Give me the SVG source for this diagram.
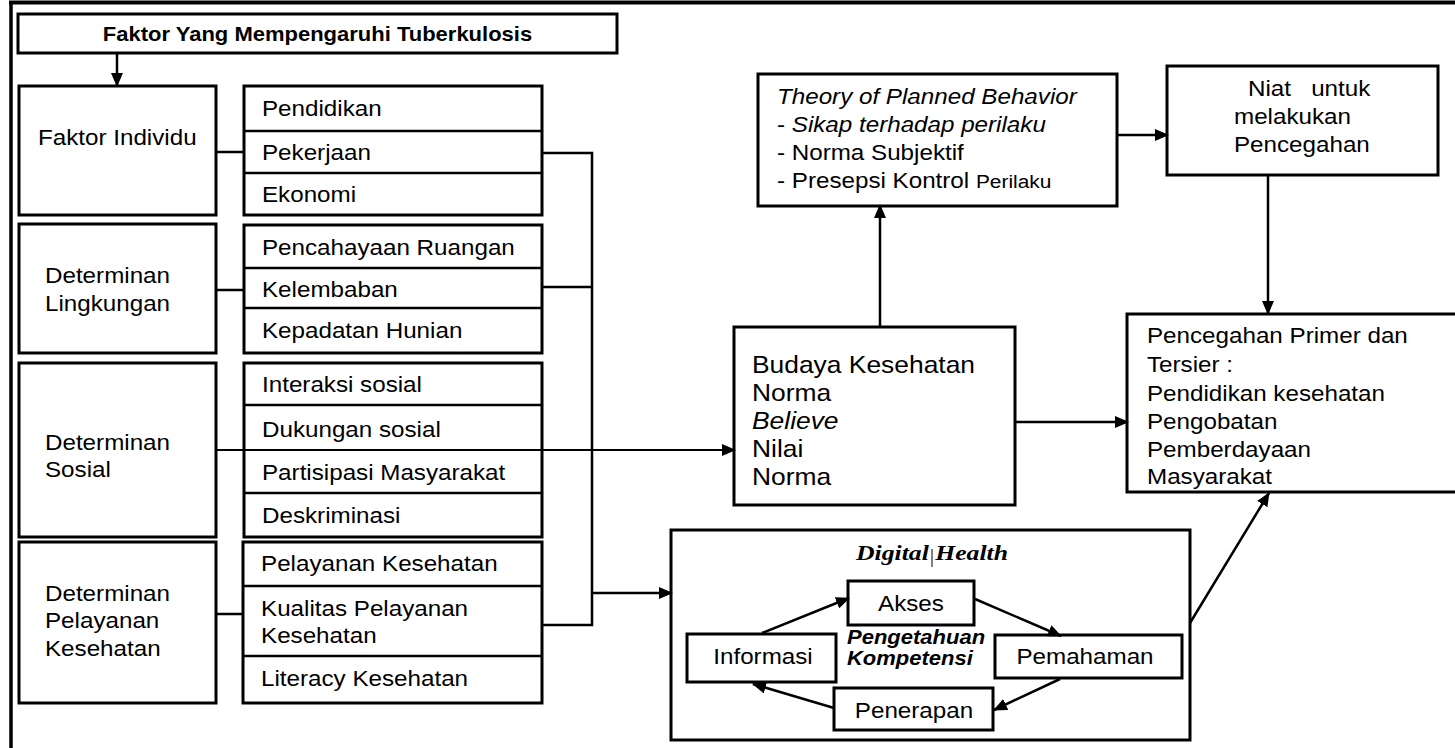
<svg xmlns="http://www.w3.org/2000/svg" width="1455" height="748" viewBox="0 0 1455 748">
<style>
.bx{fill:#fff;stroke:#000;stroke-width:3}
.dv{stroke:#000;stroke-width:2.5;fill:none}
.ln{stroke:#000;stroke-width:2.5;fill:none}
.thin{stroke:#000;stroke-width:2;fill:none}
.arr{marker-end:url(#ah)}
.t{font-family:"Liberation Sans",Arial,sans-serif;font-size:22px;fill:#000;transform-box:fill-box;transform-origin:0 50%;transform:scaleX(1.1)}
.c{text-anchor:middle;transform-origin:50% 50%}
.b{font-weight:bold}
.i{font-style:italic}
.big{font-size:24px}
</style>
<defs>
<marker id="ah" markerUnits="userSpaceOnUse" markerWidth="14" markerHeight="12" refX="13" refY="6" orient="auto">
<path d="M0,0 L14,6 L0,12 z" fill="#000"/>
</marker>
</defs>
<rect width="1455" height="748" fill="#fff"/>
<g id="frame">
<line x1="9" y1="2.5" x2="1455" y2="2.5" stroke="#000" stroke-width="4"/>
<line x1="11" y1="1" x2="11" y2="748" stroke="#000" stroke-width="3.5"/>
</g>
<g id="title">
<rect class="bx" x="18" y="14" width="599" height="39"/>
<text class="t c b" x="317.5" y="41" style="font-size:20px">Faktor Yang Mempengaruhi Tuberkulosis</text>
</g>
<g id="faktor-individu">
<rect class="bx" x="19" y="86" width="197" height="129"/>
<text class="t" x="38" y="145">Faktor Individu</text>
</g>
<g id="individu-items">
<rect class="bx" x="244" y="86" width="298" height="129"/>
<line class="dv" x1="244" y1="131" x2="542" y2="131"/>
<line class="dv" x1="244" y1="173" x2="542" y2="173"/>
<text class="t" x="262" y="116">Pendidikan</text>
<text class="t" x="262" y="160">Pekerjaan</text>
<text class="t" x="262" y="202">Ekonomi</text>
</g>
<g id="determinan-lingkungan">
<rect class="bx" x="19" y="224" width="197" height="129"/>
<text class="t" x="45" y="283">Determinan<tspan x="45" dy="28">Lingkungan</tspan></text>
</g>
<g id="lingkungan-items">
<rect class="bx" x="244" y="225" width="298" height="128"/>
<line class="dv" x1="244" y1="268" x2="542" y2="268"/>
<line class="dv" x1="244" y1="308" x2="542" y2="308"/>
<text class="t" x="262" y="255">Pencahayaan Ruangan</text>
<text class="t" x="262" y="297">Kelembaban</text>
<text class="t" x="262" y="338">Kepadatan Hunian</text>
</g>
<g id="determinan-sosial">
<rect class="bx" x="19" y="363" width="197" height="174"/>
<text class="t" x="45" y="450">Determinan<tspan x="45" dy="27">Sosial</tspan></text>
</g>
<g id="sosial-items">
<rect class="bx" x="244" y="363" width="298" height="174"/>
<line class="dv" x1="244" y1="405" x2="542" y2="405"/>
<line class="dv" x1="244" y1="493" x2="542" y2="493"/>
<text class="t" x="262" y="392">Interaksi sosial</text>
<text class="t" x="262" y="437">Dukungan sosial</text>
<text class="t" x="262" y="480">Partisipasi Masyarakat</text>
<text class="t" x="262" y="523">Deskriminasi</text>
</g>
<g id="determinan-pelayanan">
<rect class="bx" x="19" y="542" width="197" height="161"/>
<text class="t" x="45" y="601">Determinan<tspan x="45" dy="27">Pelayanan</tspan><tspan x="45" dy="28">Kesehatan</tspan></text>
</g>
<g id="pelayanan-items">
<rect class="bx" x="243" y="542" width="299" height="161"/>
<line class="dv" x1="243" y1="586" x2="542" y2="586"/>
<line class="dv" x1="243" y1="656" x2="542" y2="656"/>
<text class="t" x="261" y="571">Pelayanan Kesehatan</text>
<text class="t" x="261" y="616">Kualitas Pelayanan<tspan x="261" dy="27">Kesehatan</tspan></text>
<text class="t" x="261" y="686">Literacy Kesehatan</text>
</g>
<g id="theory">
<rect class="bx" x="758" y="74" width="359" height="132"/>
<text class="t" x="777" y="104"><tspan class="i">Theory of Planned Behavior</tspan><tspan x="777" dy="28">- </tspan><tspan class="i">Sikap terhadap perilaku</tspan><tspan x="777" dy="28">- Norma Subjektif</tspan><tspan x="777" dy="28">- Presepsi Kontrol </tspan><tspan style="font-size:19px">Perilaku</tspan></text>
</g>
<g id="niat">
<rect class="bx" x="1167" y="66" width="271" height="109"/>
<text class="t" x="1248" y="96" style="white-space:pre">Niat   untuk</text>
<text class="t" x="1234" y="124">melakukan<tspan x="1234" dy="28">Pencegahan</tspan></text>
</g>
<g id="budaya">
<rect class="bx" x="734" y="327" width="281" height="178"/>
<text class="t big" x="752" y="373">Budaya Kesehatan<tspan x="752" dy="28">Norma</tspan><tspan x="752" dy="28" class="i">Believe</tspan><tspan x="752" dy="28">Nilai</tspan><tspan x="752" dy="28">Norma</tspan></text>
</g>
<g id="pencegahan">
<rect class="bx" x="1127" y="314" width="340" height="178"/>
<text class="t" x="1147" y="343">Pencegahan Primer dan<tspan x="1147" dy="29">Tersier :</tspan><tspan x="1147" dy="29">Pendidikan kesehatan</tspan><tspan x="1147" dy="28">Pengobatan</tspan><tspan x="1147" dy="28">Pemberdayaan</tspan><tspan x="1147" dy="27">Masyarakat</tspan></text>
</g>
<g id="digital-health">
<rect class="bx" x="671" y="530" width="519" height="210"/>
<text x="856" y="560" textLength="152" lengthAdjust="spacingAndGlyphs" style="font-family:'Liberation Serif','Times New Roman',serif;font-size:21px;font-weight:bold;font-style:italic">Digital Health</text>
<line x1="932" y1="549" x2="932" y2="567" stroke="#000" stroke-width="1"/>
<text class="t b i" x="847" y="644" style="font-size:20px">Pengetahuan<tspan x="847" dy="21">Kompetensi</tspan></text>
</g>
<g id="akses">
<rect class="bx" x="848" y="581" width="126" height="44"/>
<text class="t c" x="911" y="611">Akses</text>
</g>
<g id="informasi">
<rect class="bx" x="687" y="634" width="149" height="48"/>
<text class="t c" x="763" y="664">Informasi</text>
</g>
<g id="pemahaman">
<rect class="bx" x="995" y="635" width="187" height="43"/>
<text class="t c" x="1085" y="664">Pemahaman</text>
</g>
<g id="penerapan">
<rect class="bx" x="834" y="688" width="159" height="42"/>
<text class="t c" x="914" y="718">Penerapan</text>
</g>
<g id="connectors">
<line class="ln arr" x1="117" y1="53" x2="117" y2="86"/>
<line class="ln" x1="216" y1="152" x2="244" y2="152" stroke-width="3"/>
<line class="ln" x1="216" y1="290" x2="244" y2="290" stroke-width="3"/>
<line class="ln" x1="216" y1="614" x2="243" y2="614"/>
<polyline class="ln" points="542,153 592,153 592,625 542,625"/>
<line class="ln" x1="542" y1="287" x2="592" y2="287"/>
<line class="ln arr" x1="592" y1="593" x2="672" y2="593"/>
<line class="thin arr" x1="216" y1="450" x2="735" y2="450"/>
<line class="ln arr" x1="880" y1="327" x2="880" y2="205"/>
<line class="ln arr" x1="1117" y1="135" x2="1168" y2="135"/>
<line class="ln arr" x1="1268" y1="175" x2="1268" y2="314"/>
<line class="ln arr" x1="1015" y1="422" x2="1128" y2="422"/>
<line class="ln arr" x1="1190" y1="623" x2="1269" y2="493"/>
<line class="ln arr" x1="762" y1="633" x2="849" y2="598"/>
<line class="ln arr" x1="975" y1="599" x2="1061" y2="636"/>
<line class="ln arr" x1="1060" y1="679" x2="994" y2="710"/>
<line class="ln arr" x1="834" y1="708" x2="753" y2="684"/>
</g>
</svg>
